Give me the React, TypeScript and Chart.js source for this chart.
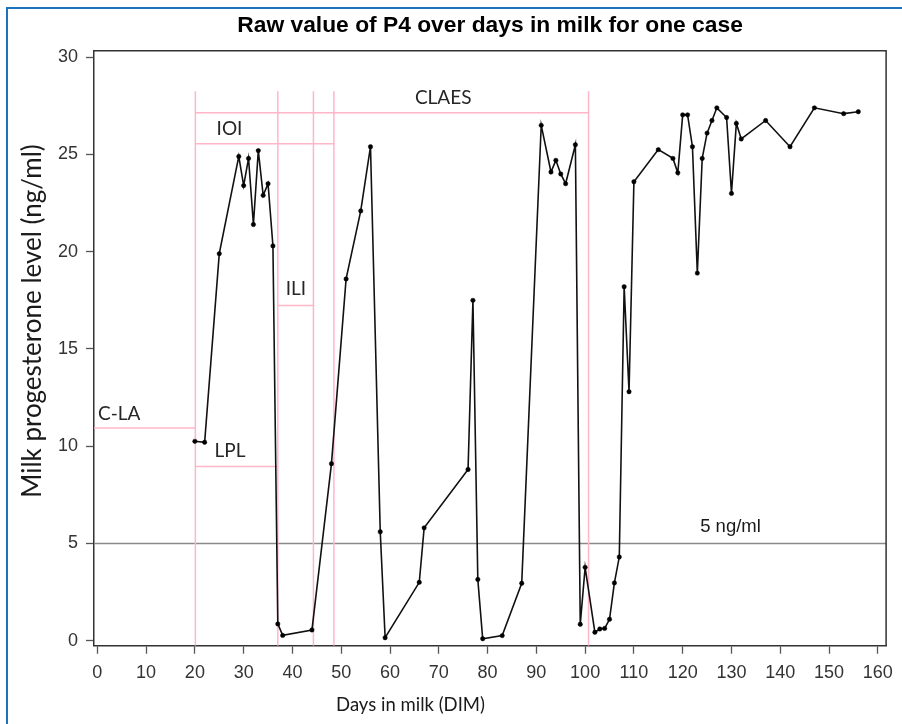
import React, { useEffect, useRef } from 'react';
import { Chart, registerables } from 'chart.js';

Chart.register(...registerables);

const TITLE = 'Raw value of P4 over days in milk for one case';
const X_TITLE = 'Days in milk (DIM)';
const Y_TITLE = 'Milk progesterone level (ng/ml)';

// Days in milk of each sample
const days = [
  20, 22, 25, 29, 30, 31, 32, 33, 34, 35, 36, 37, 38, 44, 48, 51, 54, 56, 58, 59,
  66, 67, 76, 77, 78, 79, 83, 87, 91, 93, 94, 95, 96, 98, 99, 100, 102, 103, 104,
  105, 106, 107, 108, 109, 110, 115, 118, 119, 120, 121, 122, 123, 124, 125, 126,
  127, 129, 130, 131, 132, 137, 142, 147, 153, 156,
];
// Milk progesterone (ng/ml)
const p4 = [
  10.25, 10.2, 19.9, 24.9, 23.4, 24.8, 21.4, 25.2, 22.9, 23.5, 20.3, 0.86, 0.27, 0.55, 9.1, 18.6, 22.1, 25.4, 5.6, 0.15,
  3.0, 5.8, 8.8, 17.5, 3.15, 0.1, 0.26, 2.95, 26.5, 24.1, 24.7, 24.0, 23.5, 25.5, 0.84, 3.77, 0.43, 0.6, 0.63,
  1.1, 2.97, 4.3, 18.2, 12.8, 23.6, 25.25, 24.8, 24.06, 27.04, 27.04, 25.4, 18.9, 24.8, 26.1, 26.75,
  27.4, 26.9, 23.0, 26.6, 25.8, 26.75, 25.4, 27.4, 27.1, 27.2,
];

const xTicks = [0, 10, 20, 30, 40, 50, 60, 70, 80, 90, 100, 110, 120, 130, 140, 150, 160];
const yTicks = [0, 5, 10, 15, 20, 25, 30];

const thresholdValue = 5;
const thresholdLabel = '5 ng/ml';
const thresholdLabelX = 129.8;
const thresholdLabelY = 5.83;

// Interval boundaries (vertical pink lines)
const boundaryDays = [20.1, 37.0, 44.3, 48.5, 100.7];
const boundaryTop = 28.25;

// Interval bars (horizontal pink lines) and their labels
const intervalNames = ['C-LA', 'LPL', 'IOI', 'ILI', 'CLAES'];
const intervalStart = [null, 20.1, 20.1, 37.0, 20.1];
const intervalEnd = [20.1, 37.0, 48.5, 44.3, 100.7];
const intervalLevel = [10.94, 8.95, 25.55, 17.23, 27.15];
const intervalLabelX = [4.5, 27.2, 27.1, 40.7, 70.9];
const intervalLabelY = [11.64, 9.74, 26.3, 18.09, 27.9];

const PINK = '#ffb6c9';
const FRAME = '#333333';

const overlayPlugin = {
  id: 'overlay',
  beforeDatasetsDraw(chart: any) {
    const { ctx, chartArea: a, scales } = chart;
    const x = scales.x;
    const y = scales.y;
    const seg = (x0: number, y0: number, x1: number, y1: number) => {
      ctx.beginPath();
      ctx.moveTo(x0, y0);
      ctx.lineTo(x1, y1);
      ctx.stroke();
    };
    ctx.save();
    ctx.beginPath();
    ctx.rect(a.left, a.top, a.right - a.left, a.bottom - a.top);
    ctx.clip();
    // threshold line
    ctx.strokeStyle = '#8a8a8a';
    ctx.lineWidth = 1.5;
    const ty = y.getPixelForValue(thresholdValue);
    seg(a.left, ty, a.right, ty);
    // pink boundaries
    ctx.strokeStyle = PINK;
    ctx.lineWidth = 1.5;
    boundaryDays.forEach((d) => {
      const px = x.getPixelForValue(d);
      seg(px, y.getPixelForValue(boundaryTop), px, a.bottom);
    });
    intervalNames.forEach((_, i) => {
      const s = intervalStart[i];
      const x0 = s === null ? a.left : x.getPixelForValue(s);
      const x1 = x.getPixelForValue(intervalEnd[i]);
      const py = y.getPixelForValue(intervalLevel[i]);
      seg(x0, py, x1, py);
    });
    ctx.restore();

    ctx.save();
    ctx.textAlign = 'center';
    ctx.textBaseline = 'middle';
    ctx.fillStyle = '#262626';
    ctx.font = '19px Lato';
    intervalNames.forEach((n, i) => {
      ctx.fillText(n, x.getPixelForValue(intervalLabelX[i]), y.getPixelForValue(intervalLabelY[i]));
    });
    ctx.font = '18.5px "Liberation Sans"';
    ctx.fillStyle = '#1a1a1a';
    ctx.fillText(thresholdLabel, x.getPixelForValue(thresholdLabelX), y.getPixelForValue(thresholdLabelY));
    ctx.restore();
  },
  afterDraw(chart: any) {
    const { ctx, chartArea: a } = chart;
    ctx.save();
    ctx.strokeStyle = FRAME;
    ctx.lineWidth = 1.5;
    ctx.beginPath();
    ctx.moveTo(a.left, a.top);
    ctx.lineTo(a.right, a.top);
    ctx.lineTo(a.right, a.bottom);
    ctx.stroke();

    ctx.fillStyle = '#1a1a1a';
    ctx.textAlign = 'center';
    ctx.textBaseline = 'middle';
    ctx.font = '18.5px Lato';
    ctx.fillText(X_TITLE, 410.5, 705);
    ctx.translate(33, 321);
    ctx.rotate(-Math.PI / 2);
    ctx.font = '26px Lato';
    ctx.fillText(Y_TITLE, 0, 0);
    ctx.restore();
  },
};

export default function App() {
  const ref = useRef<HTMLCanvasElement | null>(null);

  useEffect(() => {
    document.body.style.margin = '0';
    const canvas = ref.current;
    if (!canvas) return;
    const tickFont = { family: '"Liberation Sans", Arial, sans-serif', size: 18 };
    const chart = new Chart(canvas, {
      type: 'scatter',
      data: {
        datasets: [
          {
            label: 'P4',
            data: days.map((d, i) => ({ x: d, y: p4[i] })),
            showLine: true,
            borderColor: '#111111',
            borderWidth: 1.6,
            backgroundColor: '#000000',
            pointBackgroundColor: '#000000',
            pointBorderColor: '#000000',
            pointRadius: 2.2,
            pointBorderWidth: 0.5,
          },
        ],
      },
      options: {
        responsive: false,
        animation: false,
        devicePixelRatio: 1,
        layout: { padding: { left: 0, right: 14.3, top: 0, bottom: 0 } },
        plugins: {
          legend: { display: false },
          tooltip: { enabled: false },
          title: {
            display: true,
            text: TITLE,
            fullSize: false,
            color: '#000000',
            font: { family: '"Liberation Sans", Arial, sans-serif', size: 22.8, weight: 'bold' },
            padding: { top: 12.5, bottom: 10.8 },
          },
        },
        scales: {
          x: {
            type: 'linear',
            min: -0.68,
            max: 161.7,
            afterBuildTicks: (s: any) => {
              s.ticks = xTicks.map((v) => ({ value: v }));
            },
            afterFit: (s: any) => {
              s.height = 78.3;
            },
            ticks: { font: tickFont, color: '#333333', padding: 9, maxRotation: 0, autoSkip: false },
            grid: { drawOnChartArea: false, drawTicks: true, tickLength: 8, tickColor: '#555555', tickWidth: 1.3 },
            border: { display: true, color: FRAME, width: 1.5 },
          },
          y: {
            type: 'linear',
            min: -0.26,
            max: 30.34,
            afterBuildTicks: (s: any) => {
              s.ticks = yTicks.map((v) => ({ value: v }));
            },
            afterFit: (s: any) => {
              s.width = 94;
            },
            ticks: { font: tickFont, color: '#333333', padding: 8, autoSkip: false },
            grid: { drawOnChartArea: false, drawTicks: true, tickLength: 8, tickColor: '#555555', tickWidth: 1.3 },
            border: { display: true, color: FRAME, width: 1.5 },
          },
        },
      },
      plugins: [overlayPlugin],
    } as any);
    return () => chart.destroy();
  }, []);

  return (
    <div style={{ position: 'relative', width: 902, height: 724, background: '#ffffff', overflow: 'hidden' }}>
      <canvas ref={ref} width={902} height={724} style={{ display: 'block', width: 902, height: 724 }} />
      <div
        style={{
          position: 'absolute',
          left: 6,
          top: 7,
          width: 1000,
          height: 1000,
          borderLeft: '2px solid #1c75bc',
          borderTop: '2px solid #1c75bc',
          pointerEvents: 'none',
        }}
      />
    </div>
  );
}
